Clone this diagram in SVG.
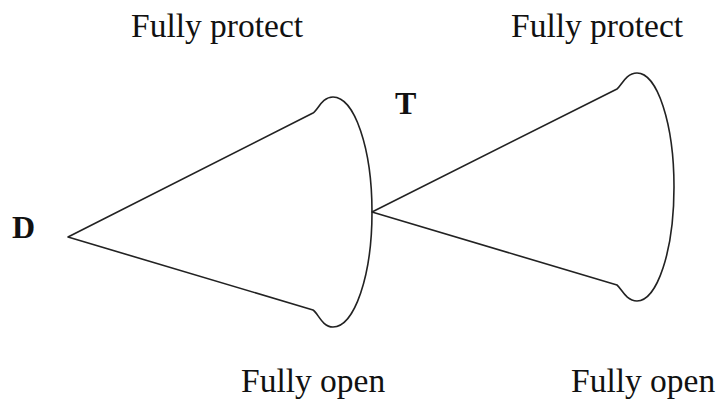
<svg xmlns="http://www.w3.org/2000/svg" width="718" height="405" viewBox="0 0 718 405">
<style>
.lbl{font-family:"Liberation Serif","Times New Roman",serif;font-size:33.5px;fill:#111}
.bold{font-family:"Liberation Serif","Times New Roman",serif;font-size:32px;font-weight:bold;fill:#111}
.cone{fill:none;stroke:#222;stroke-width:1.6;stroke-linejoin:round}
</style>
<rect width="718" height="405" fill="#fff"/>
<g id="cone-left">
<path class="cone" d="M68,237 L313,113 C318,110 322,97 333,97 A39,115 0 0 1 333,327 C322,327 318,313 313,310 Z"/>
</g>
<g id="cone-right">
<path class="cone" d="M372,212 L617,89 C621,86 626,73 637,73 A37,114 0 0 1 637,301 C626,301 621,288 617,285 Z"/>
</g>
<g id="labels">
<text class="bold" x="12" y="238">D</text>
<text class="bold" x="395" y="114">T</text>
<text class="lbl" x="131" y="37">Fully protect</text>
<text class="lbl" x="511" y="37">Fully protect</text>
<text class="lbl" x="241" y="392">Fully open</text>
<text class="lbl" x="571" y="392">Fully open</text>
</g>
</svg>
